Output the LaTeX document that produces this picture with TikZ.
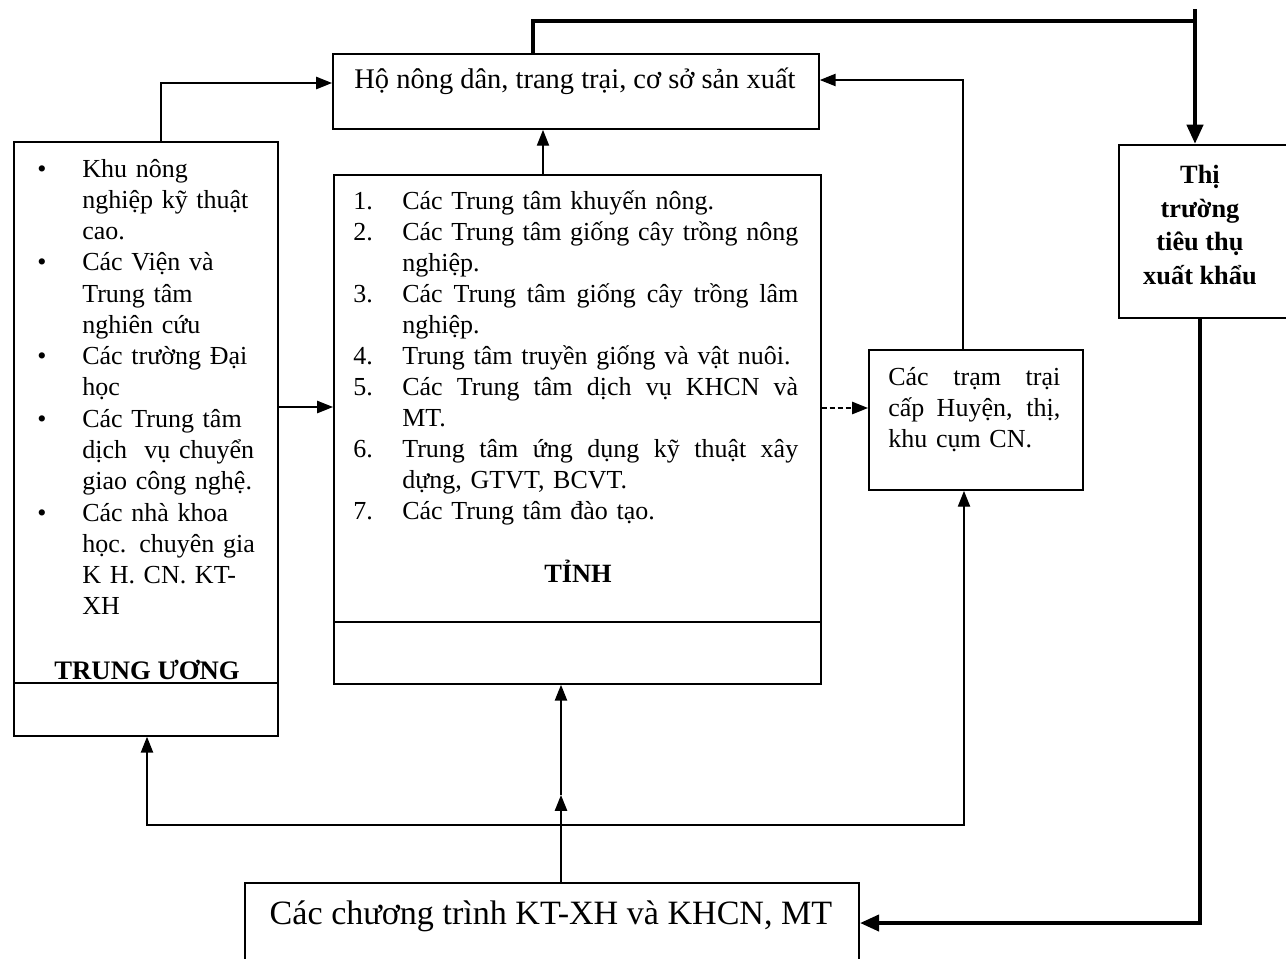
\documentclass[tikz,border=0pt]{standalone}
\usepackage{fontspec}
\setmainfont{Liberation Serif}
\usetikzlibrary{arrows.meta}
\newcommand\bulA{\makebox[0.9cm][l]{\textbullet}}
\newcommand\indA{\hspace*{0.9cm}}
\newcommand\numB[1]{\makebox[0.98cm][l]{#1}}
\newcommand\indB{\hspace*{0.98cm}}
\newcommand\jline[2]{\leavevmode\hbox to #1{\spaceskip=0.25em plus 1fil minus 0.1em\relax #2}}
\begin{document}
\begin{tikzpicture}[x=0.02cm,y=-0.02cm,
 box/.style={draw,line width=1.1pt,rectangle,inner sep=0pt,anchor=north west},
 divider/.style={line width=1.1pt},
 arr/.style={line width=0.8pt,-{Triangle[length=9pt,width=7pt]}},
 bigline/.style={line width=2.6pt},
 bigarr/.style={line width=2.6pt,-{Triangle[length=11pt,width=9pt]}},
 body/.style={font=\fontsize{14.8}{17.65}\selectfont,inner sep=0pt},
 ]
\useasboundingbox (0,0) rectangle (1286,958);
\fill[white] (0,0) rectangle (1286,958);

% boxes
\node[box,minimum width=9.72cm,minimum height=1.5cm] (top) at (332,53) {};
\node[box,minimum width=3.44cm,minimum height=3.46cm] (thi) at (1118,144) {};
\node[box,minimum width=12.28cm,minimum height=1.8cm] (bot) at (244,882) {};
\node[box,minimum width=5.28cm,minimum height=11.88cm] (left) at (13,141) {};
\node[box,minimum width=9.74cm,minimum height=10.18cm] (mid) at (333,174) {};
\node[box,minimum width=4.28cm,minimum height=2.8cm] (tram) at (868,349) {};

\coordinate (dL) at (0,683);
\draw[divider] (left.west |- dL) -- (left.east |- dL);
\coordinate (dM) at (0,622);
\draw[divider] (mid.west |- dM) -- (mid.east |- dM);

% texts
\node[font=\fontsize{16.2}{19}\selectfont,inner sep=0pt] (tTop) at (575,81) {Hộ nông dân, trang trại, cơ sở sản xuất};
\node[font=\bfseries\fontsize{15}{19.3}\selectfont,align=center,inner sep=0pt] (tThi) at (1200,225) {Thị\\trường\\tiêu thụ\\xuất khẩu};
\node[font=\fontsize{19.4}{22}\selectfont,inner sep=0pt] (tBot) at (551,916) {Các chương trình KT-XH và KHCN, MT};
\node[body,font=\fontsize{14.8}{17.8}\selectfont,text width=5cm,anchor=base west] (tLeft) at (37,177) {%
\bulA Khu nông\\
\indA nghiệp kỹ thuật\\
\indA cao.\\
\bulA Các Viện và\\
\indA Trung tâm\\
\indA nghiên cứu\\
\bulA Các trường Đại\\
\indA học\\
\bulA Các Trung tâm\\
\indA dịch\ \ vụ chuyển\\
\indA giao công nghệ.\\
\bulA Các nhà khoa\\
\indA học. chuyên gia\\
\indA K H. CN. KT-\\
\indA XH};
\node[font=\bfseries\fontsize{15.2}{17}\selectfont,inner sep=0pt] (tTU) at (147,670) {TRUNG ƯƠNG};
\node[body,text width=9cm,anchor=base west] (tMid) at (353,209) {%
\numB{1.}Các Trung tâm khuyến nông.\\
\numB{2.}\jline{7.92cm}{Các Trung tâm giống cây trồng nông}\\
\indB nghiệp.\\
\numB{3.}\jline{7.92cm}{Các Trung tâm giống cây trồng lâm}\\
\indB nghiệp.\\
\numB{4.}Trung tâm truyền giống và vật nuôi.\\
\numB{5.}\jline{7.92cm}{Các Trung tâm dịch vụ KHCN và}\\
\indB MT.\\
\numB{6.}\jline{7.92cm}{Trung tâm ứng dụng kỹ thuật xây}\\
\indB dựng, GTVT, BCVT.\\
\numB{7.}Các Trung tâm đào tạo.};
\node[font=\bfseries\fontsize{15}{18}\selectfont,inner sep=0pt] (tTinh) at (578,571) {TỈNH};
\node[body,text width=3.5cm,anchor=base west] (tTram) at (888,385) {%
\jline{3.44cm}{Các trạm trại}\\
\jline{3.44cm}{cấp Huyện, thị,}\\
khu cụm CN.};

% connectors
\coordinate (c1) at (533,21);
\coordinate (tj) at (1195,21);
\coordinate (tjt) at (1195,9);
\draw[bigline] (top.north -| c1) -- (c1) -- (tj);
\draw[bigarr] (tjt) -- (thi.north -| tjt);

\coordinate (c2) at (1200,923);
\draw[bigarr] (thi.south -| c2) -- (c2) -- (bot.east |- c2);

\coordinate (c3) at (161,83);
\draw[arr] (left.north -| c3) -- (c3) -- (top.west |- c3);

\coordinate (c4) at (543,150);
\draw[arr] (mid.north -| c4) -- (top.south -| c4);

\coordinate (c5) at (300,407);
\draw[arr] (left.east |- c5) -- (mid.west |- c5);

\coordinate (c6) at (840,408);
\draw[arr,dash pattern=on 3pt off 1.5pt] (mid.east |- c6) -- (tram.west |- c6);

\coordinate (c7) at (963,80);
\draw[arr] (tram.north -| c7) -- (c7) -- (top.east |- c7);

\coordinate (c8) at (561,825);
\coordinate (c9) at (561,795);
\draw[arr] (bot.north -| c8) -- (c9);
\draw[arr] (c9) -- (mid.south -| c8);

\coordinate (c10) at (147,825);
\coordinate (c11) at (964,825);
\draw[arr] (c8) -- (c10) -- (left.south -| c10);
\draw[arr] (c8) -- (c11) -- (tram.south -| c11);
\end{tikzpicture}
\end{document}
